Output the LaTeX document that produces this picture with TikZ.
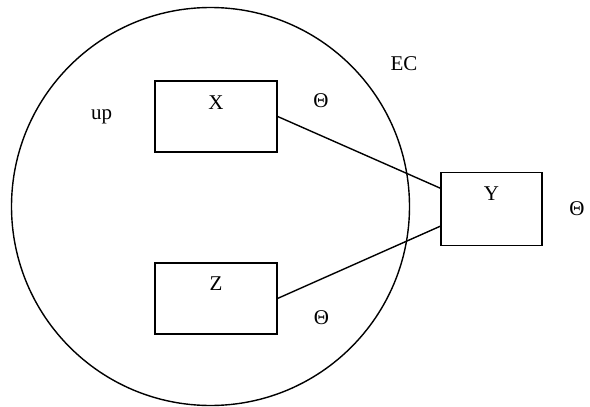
\documentclass[tikz,border=0pt]{standalone}
\usepackage{fontspec}
\setmainfont{Liberation Serif}
\usetikzlibrary{positioning,calc}

\begin{document}
\begin{tikzpicture}[x=1pt,y=-1pt,line width=1.4pt,every node/.style={font=\fontsize{21}{25}\selectfont},box/.style={draw,minimum height=71pt,label={[anchor=north,yshift=-11pt]north:#1}}]
\useasboundingbox (0,0) rectangle (590,407);
\node[draw,circle,minimum size=398pt,inner sep=0pt] (EC) at (210.5,206.5) {};
\node[box=X,minimum width=122pt] (X) at (216,116.5) {};
\node[box=Z,minimum width=122pt,below=109.5pt of X] (Z) {};
\node[box=Y,minimum width=101pt,minimum height=73pt] (Y) at (491.5,209.2) {};
\node (EClabel) at (404,64) {EC};
\node (up) at (101.7,117) {up};
\node (thX) at (321,101) {Θ};
\node (thZ) at (321.5,317.5) {Θ};
\node (thY) at (577,208.5) {Θ};
\draw (X.east)--([yshift=21pt]Y.west);\draw (Z.east)--([yshift=-17pt]Y.west);
\end{tikzpicture}
\end{document}
